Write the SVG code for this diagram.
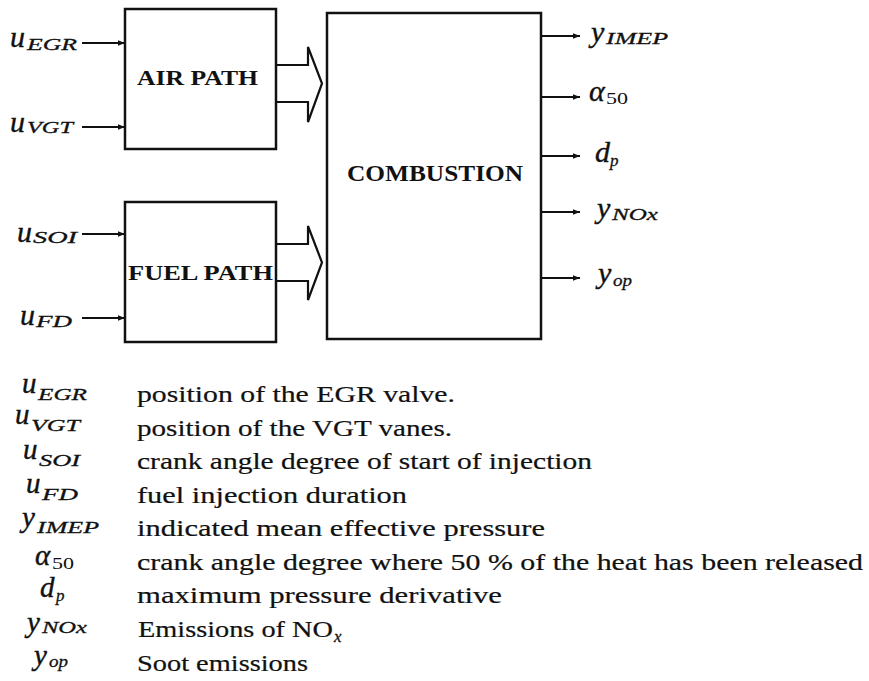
<svg xmlns="http://www.w3.org/2000/svg" width="869" height="681" viewBox="0 0 869 681">
<style>
.box{fill:#fff;stroke:#111;stroke-width:2.5}
.con{stroke:#111;stroke-width:1.8;fill:none}
.hollow{fill:#fff;stroke:#111;stroke-width:2.2;stroke-linejoin:miter}
.bt{font-family:"Liberation Serif","Times New Roman",Times,serif;font-weight:bold;fill:#111}
.m{font-family:"Liberation Serif","Times New Roman",Times,serif;font-style:italic;fill:#111;stroke:#111;stroke-width:0.4}
.ms{font-family:"Liberation Serif","Times New Roman",Times,serif;font-style:italic;fill:#111;font-size:17px;stroke:#111;stroke-width:0.3}
.mn{font-family:"Liberation Serif","Times New Roman",Times,serif;fill:#111;font-size:17px}
.d{font-family:"Liberation Serif","Times New Roman",Times,serif;fill:#111;font-size:23px;stroke:#111;stroke-width:0.2}
</style>
<defs>
<marker id="ah" viewBox="0 0 10 10" refX="10" refY="5" markerWidth="7" markerHeight="7" markerUnits="userSpaceOnUse" orient="auto">
<path d="M0,1 L10,5 L0,9 Z" fill="#111"/>
</marker>
</defs>
<rect width="869" height="681" fill="#fff"/>

<g id="connectors">
<line class="con" x1="82" y1="43" x2="125" y2="43" marker-end="url(#ah)"/>
<line class="con" x1="82" y1="127" x2="125" y2="127" marker-end="url(#ah)"/>
<line class="con" x1="82" y1="234" x2="125" y2="234" marker-end="url(#ah)"/>
<line class="con" x1="82" y1="318" x2="125" y2="318" marker-end="url(#ah)"/>
<line class="con" x1="541" y1="36" x2="580" y2="36" marker-end="url(#ah)"/>
<line class="con" x1="541" y1="97" x2="580" y2="97" marker-end="url(#ah)"/>
<line class="con" x1="541" y1="156" x2="580" y2="156" marker-end="url(#ah)"/>
<line class="con" x1="541" y1="212" x2="580" y2="212" marker-end="url(#ah)"/>
<line class="con" x1="541" y1="278" x2="580" y2="278" marker-end="url(#ah)"/>
<path class="hollow" d="M276,65 L308,65 L308,47 L322,83.5 L308,122 L308,102 L276,102"/>
<path class="hollow" d="M276,244 L308,244 L308,226 L322,262.5 L308,300 L308,281 L276,281"/>
</g>

<g id="air-path">
<rect class="box" x="125" y="9" width="151" height="140"/>
<text class="bt" x="137" y="85" font-size="20" textLength="121" lengthAdjust="spacingAndGlyphs">AIR PATH</text>
</g>
<g id="fuel-path">
<rect class="box" x="125" y="202" width="151" height="140"/>
<text class="bt" x="128" y="280" font-size="20" textLength="145" lengthAdjust="spacingAndGlyphs">FUEL PATH</text>
</g>
<g id="combustion">
<rect class="box" x="327" y="13" width="214" height="326"/>
<text class="bt" x="347" y="181" font-size="24" textLength="176" lengthAdjust="spacingAndGlyphs">COMBUSTION</text>
</g>

<g id="inputs">
<text class="m" x="10" y="47" font-size="30">u</text><text class="ms" x="27" y="50" textLength="50" lengthAdjust="spacingAndGlyphs">EGR</text>
<text class="m" x="10" y="132" font-size="30">u</text><text class="ms" x="27" y="133" textLength="46" lengthAdjust="spacingAndGlyphs">VGT</text>
<text class="m" x="17" y="242" font-size="30">u</text><text class="ms" x="33" y="243" textLength="44" lengthAdjust="spacingAndGlyphs">SOI</text>
<text class="m" x="20" y="325" font-size="30">u</text><text class="ms" x="36" y="327" textLength="36" lengthAdjust="spacingAndGlyphs">FD</text>
</g>

<g id="outputs">
<text class="m" x="591" y="42" font-size="30">y</text><text class="ms" x="606" y="44" textLength="62" lengthAdjust="spacingAndGlyphs">IMEP</text>
<text class="m" x="589" y="101" font-size="30">α</text><text class="mn" x="606" y="104" textLength="22" lengthAdjust="spacingAndGlyphs">50</text>
<text class="m" x="595" y="162" font-size="30">d</text><text class="ms" x="610" y="166">p</text>
<text class="m" x="597" y="218" font-size="30">y</text><text class="ms" x="612" y="220" textLength="46" lengthAdjust="spacingAndGlyphs">NOx</text>
<text class="m" x="598" y="283" font-size="30">y</text><text class="ms" x="613" y="286" textLength="19" lengthAdjust="spacingAndGlyphs">op</text>
</g>

<g id="legend">
<text class="m" x="22" y="393" font-size="29">u</text><text class="ms" x="38" y="400" textLength="49" lengthAdjust="spacingAndGlyphs">EGR</text>
<text class="d" x="137" y="402" textLength="318" lengthAdjust="spacingAndGlyphs">position of the EGR valve.</text>

<text class="m" x="15" y="424" font-size="29">u</text><text class="ms" x="31" y="431" textLength="49" lengthAdjust="spacingAndGlyphs">VGT</text>
<text class="d" x="137" y="436" textLength="315" lengthAdjust="spacingAndGlyphs">position of the VGT vanes.</text>

<text class="m" x="23" y="459" font-size="29">u</text><text class="ms" x="39" y="466" textLength="41" lengthAdjust="spacingAndGlyphs">SOI</text>
<text class="d" x="137" y="469" textLength="455" lengthAdjust="spacingAndGlyphs">crank angle degree of start of injection</text>

<text class="m" x="26" y="493" font-size="29">u</text><text class="ms" x="42" y="500" textLength="36" lengthAdjust="spacingAndGlyphs">FD</text>
<text class="d" x="137" y="503" textLength="270" lengthAdjust="spacingAndGlyphs">fuel injection duration</text>

<text class="m" x="22" y="527" font-size="29">y</text><text class="ms" x="37" y="533" textLength="62" lengthAdjust="spacingAndGlyphs">IMEP</text>
<text class="d" x="137" y="536" textLength="408" lengthAdjust="spacingAndGlyphs">indicated  mean  effective  pressure</text>

<text class="m" x="35" y="565" font-size="29">α</text><text class="mn" x="52" y="569" textLength="22" lengthAdjust="spacingAndGlyphs">50</text>
<text class="d" x="137" y="570" textLength="726" lengthAdjust="spacingAndGlyphs">crank angle degree where 50 %  of the heat has been released</text>

<text class="m" x="40" y="597" font-size="29">d</text><text class="ms" x="56" y="601">p</text>
<text class="d" x="137" y="603" textLength="365" lengthAdjust="spacingAndGlyphs">maximum  pressure  derivative</text>

<text class="m" x="27" y="632" font-size="29">y</text><text class="ms" x="42" y="633" textLength="45" lengthAdjust="spacingAndGlyphs">NOx</text>
<text class="d" x="138" y="637" textLength="195" lengthAdjust="spacingAndGlyphs">Emissions of NO</text><text class="ms" x="334" y="642">x</text>

<text class="m" x="34" y="665" font-size="29">y</text><text class="ms" x="49" y="667" textLength="19" lengthAdjust="spacingAndGlyphs">op</text>
<text class="d" x="137" y="671" textLength="171" lengthAdjust="spacingAndGlyphs">Soot emissions</text>
</g>
</svg>
